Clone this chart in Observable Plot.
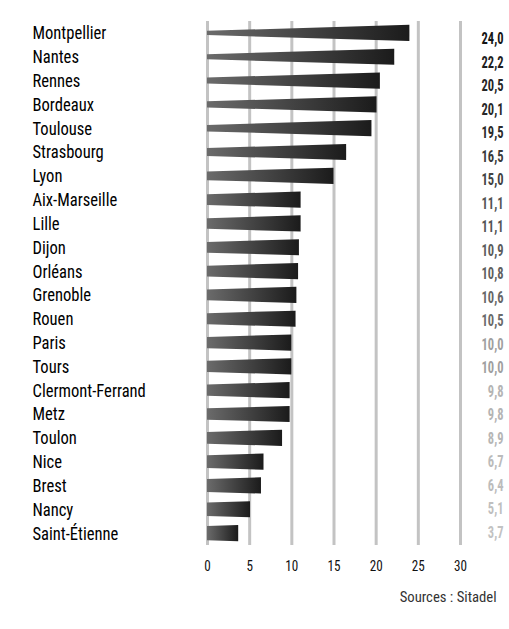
<!DOCTYPE html>
<html>
<head>
<meta charset="utf-8">
<script src="https://cdn.jsdelivr.net/npm/d3@7"></script>
<script src="https://cdn.jsdelivr.net/npm/@observablehq/plot@0.6"></script>
<style>
  html, body { margin: 0; padding: 0; background: #fff; }
  #chart { width: 509px; }
  .srcwrap { text-align: right; padding-right: 12px; margin-top: 9px; line-height: 16px; }
  .src { display: inline-block; font-family: Roboto, sans-serif; font-stretch: condensed; font-size: 14.5px; color: #333; transform-origin: right center; }
</style>
</head>
<body>
<div id="chart"></div>
<script>
const cities = ["Montpellier","Nantes","Rennes","Bordeaux","Toulouse","Strasbourg","Lyon","Aix-Marseille","Lille","Dijon","Orléans","Grenoble","Rouen","Paris","Tours","Clermont-Ferrand","Metz","Toulon","Nice","Brest","Nancy","Saint-Étienne"];
const values = [24.0,22.2,20.5,20.1,19.5,16.5,15.0,11.1,11.1,10.9,10.8,10.6,10.5,10.0,10.0,9.8,9.8,8.9,6.7,6.4,5.1,3.7];
const xTicks = [0,5,10,15,20,25,30];
const source = "Sources : Sitadel";

const rows = cities.map((c, i) => ({city: c, i, v: values[i]}));
// wedge: thin at the start, full height at the end
const pts = rows.flatMap(d => {
  const hr = 0.34, hl = Math.max(0.08, 0.34 - 0.0105 * d.v);
  return [
    {city: d.city, x: 0, lo: d.i - hl, hi: d.i + hl},
    {city: d.city, x: d.v, lo: d.i - hr, hi: d.i + hr}
  ];
});
const labelColor = d3.scaleLinear().domain([3.7, 9.9, 10.0, 10.5, 11.1, 24]).range(["#c2c2c2", "#b4b4b4", "#a0a0a0", "#6a6a6a", "#555", "#151515"]);
const fmt = v => v.toFixed(1).replace(".", ",");
const font = 'Roboto, sans-serif';
// the value column sits on its own, slightly tighter row pitch
const valueRow = d => 0.23 + d.i * 0.987;

const defs = () => {
  const svg = d3.create("svg:defs");
  const g = svg.append("linearGradient").attr("id", "barGrad").attr("x1", "0").attr("x2", "1").attr("y1", "0").attr("y2", "0");
  g.append("stop").attr("offset", "0").attr("stop-color", "#6b6b6b");
  g.append("stop").attr("offset", "1").attr("stop-color", "#1b1b1b");
  return svg.node();
};

const chart = Plot.plot({
  width: 509,
  height: 580,
  marginLeft: 207,
  marginRight: 49,
  marginTop: 21,
  marginBottom: 35,
  style: {fontFamily: font, fontStretch: "condensed", background: "#fff", overflow: "visible"},
  x: {domain: [0, 30]},
  y: {domain: [-0.5, 21.5], reverse: true},
  marks: [
    defs,
    Plot.gridX(xTicks, {stroke: "#c3c3c3", strokeOpacity: 1, strokeWidth: 3}),
    Plot.area(pts, {x1: "x", y1: "lo", y2: "hi", z: "city", fill: "url(#barGrad)", curve: "linear"}),
    Plot.axisX(xTicks, {tickSize: 0, tickPadding: 14, fontSize: 15.5, fill: "#111", label: null, tickFormat: d => String(d)}),
    Plot.axisY(d3.range(cities.length), {tickSize: 0, tickPadding: 0, textAnchor: "start", dx: -175, fontSize: 18.5, fill: "#000", label: null, tickFormat: i => cities[i]}),
    Plot.text(rows, {y: valueRow, frameAnchor: "right", dx: 43, textAnchor: "end", text: d => fmt(d.v), fill: d => labelColor(d.v), fontSize: 16, fontWeight: "bold"})
  ]
});
const root = document.getElementById("chart");
root.append(chart);
const wrap = document.createElement("div");
wrap.className = "srcwrap";
const cap = document.createElement("span");
cap.className = "src";
cap.textContent = source;
wrap.append(cap);
root.append(wrap);

// condense the text to the narrow face of the original
const texts = Array.from(chart.querySelectorAll("text"));
function squeeze(set, sample, target) {
  const ref = texts.find(t => t.textContent === sample);
  if (!ref) return;
  const s = target / ref.getComputedTextLength();
  texts.filter(t => set.has(t.textContent)).forEach(t => {
    const tr = t.getAttribute("transform") || "";
    t.setAttribute("transform", tr + ` scale(${s},1)`);
  });
}
squeeze(new Set(cities), "Montpellier", 74);
squeeze(new Set(values.map(fmt)), "24,0", 22);
squeeze(new Set(xTicks.map(String)), "10", 13);
cap.style.transform = `scaleX(${97 / cap.getBoundingClientRect().width})`;
</script>
</body>
</html>
